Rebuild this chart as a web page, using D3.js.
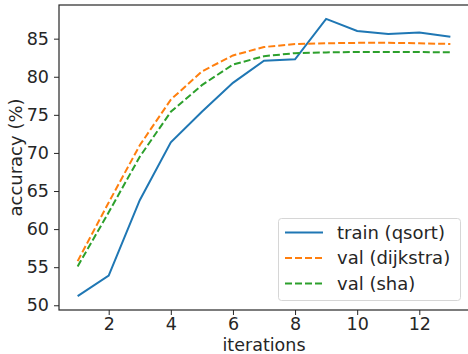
<!DOCTYPE html>
<html>
<head>
<meta charset="utf-8">
<style>
  body { margin: 0; background: white; }
  text { font-family: "DejaVu Sans", sans-serif; fill: #262626; }
</style>
</head>
<body>
<script src="https://d3js.org/d3.v7.min.js"></script>
<script>
  // data
  var iterations = [1, 2, 3, 4, 5, 6, 7, 8, 9, 10, 11, 12, 13];
  var trainQsort = [51.2, 53.9, 63.8, 71.4, 75.4, 79.2, 82.1, 82.3, 87.6, 86.0, 85.6, 85.8, 85.25];
  var valDijkstra = [55.8, 63.5, 71.0, 77.0, 80.7, 82.8, 83.9, 84.3, 84.4, 84.45, 84.45, 84.4, 84.3];
  var valSha = [55.1, 62.2, 69.5, 75.4, 78.9, 81.6, 82.7, 83.1, 83.2, 83.25, 83.25, 83.25, 83.2];
  var xTicks = [2, 4, 6, 8, 10, 12];
  var yTicks = [50, 55, 60, 65, 70, 75, 80, 85];

  var series = [
    {name: "train (qsort)", values: trainQsort, color: "#1f77b4", dash: null},
    {name: "val (dijkstra)", values: valDijkstra, color: "#ff7f0e", dash: "7,3"},
    {name: "val (sha)", values: valSha, color: "#2ca02c", dash: "7,3"}
  ];

  var W = 468, H = 354;
  var plotLeft = 59, plotRight = 469, plotTop = 5, plotBottom = 310;

  var svg = d3.select("body")
    .append("svg")
    .attr("width", W)
    .attr("height", H);

  // matplotlib-style 5% margins
  var xScale = d3.scaleLinear().domain([0.4, 13.6]).range([plotLeft, plotRight]);
  var allVals = trainQsort.concat(valDijkstra, valSha);
  var yMin = d3.min(allVals), yMax = d3.max(allVals), pad = (yMax - yMin) * 0.05;
  var yScale = d3.scaleLinear().domain([yMin - pad, yMax + pad]).range([plotBottom, plotTop]);

  // lines
  var line = d3.line()
    .x((d, i) => xScale(iterations[i]))
    .y(d => yScale(d));

  svg.selectAll(".series")
    .data(series)
    .enter()
  .append("path")
    .attr("class", "series")
    .attr("d", d => line(d.values))
    .attr("fill", "none")
    .attr("stroke", d => d.color)
    .attr("stroke-width", 2)
    .attr("stroke-dasharray", d => d.dash);

  // axes
  var xAxis = svg.append("g")
    .attr("transform", "translate(0," + plotBottom + ")")
    .call(d3.axisBottom(xScale).tickValues(xTicks).tickSize(5).tickPadding(3).tickSizeOuter(0));
  var yAxis = svg.append("g")
    .attr("transform", "translate(" + plotLeft + ",0)")
    .call(d3.axisLeft(yScale).tickValues(yTicks).tickSize(5).tickPadding(5).tickSizeOuter(0));

  [xAxis, yAxis].forEach(a => {
    a.select(".domain").remove();
    a.selectAll(".tick line").attr("stroke", "#262626").attr("stroke-width", 1);
    a.selectAll(".tick text").style("font-size", "17.5px").style("font-family", "DejaVu Sans").attr("fill", "#262626");
  });

  // frame
  svg.append("rect")
    .attr("x", plotLeft)
    .attr("y", plotTop)
    .attr("width", plotRight - plotLeft)
    .attr("height", plotBottom - plotTop)
    .attr("fill", "none")
    .attr("stroke", "#262626")
    .attr("stroke-width", 1.2);

  // axis labels
  svg.append("text")
    .attr("x", (plotLeft + plotRight) / 2)
    .attr("y", 350.5)
    .attr("text-anchor", "middle")
    .style("font-size", "17.5px")
    .text("iterations");

  svg.append("text")
    .attr("transform", "translate(22," + ((plotTop + plotBottom) / 2) + ") rotate(-90)")
    .attr("text-anchor", "middle")
    .style("font-size", "18px")
    .text("accuracy (%)");

  // legend
  var legend = svg.append("g");
  legend.append("rect")
    .attr("x", 278.5)
    .attr("y", 218.5)
    .attr("width", 182)
    .attr("height", 82)
    .attr("rx", 3)
    .attr("fill", "white")
    .attr("fill-opacity", 0.8)
    .attr("stroke", "#d6d6d6");

  var items = legend.selectAll(".item")
    .data(series)
    .enter()
  .append("g")
    .attr("transform", (d, i) => "translate(0," + (232.5 + i * 25.5) + ")");

  items.append("line")
    .attr("x1", 285)
    .attr("x2", 323)
    .attr("stroke", d => d.color)
    .attr("stroke-width", 2)
    .attr("stroke-dasharray", d => d.dash);

  items.append("text")
    .attr("x", 337)
    .attr("dy", "0.35em")
    .style("font-size", "18px")
    .text(d => d.name);
</script>
</body>
</html>
